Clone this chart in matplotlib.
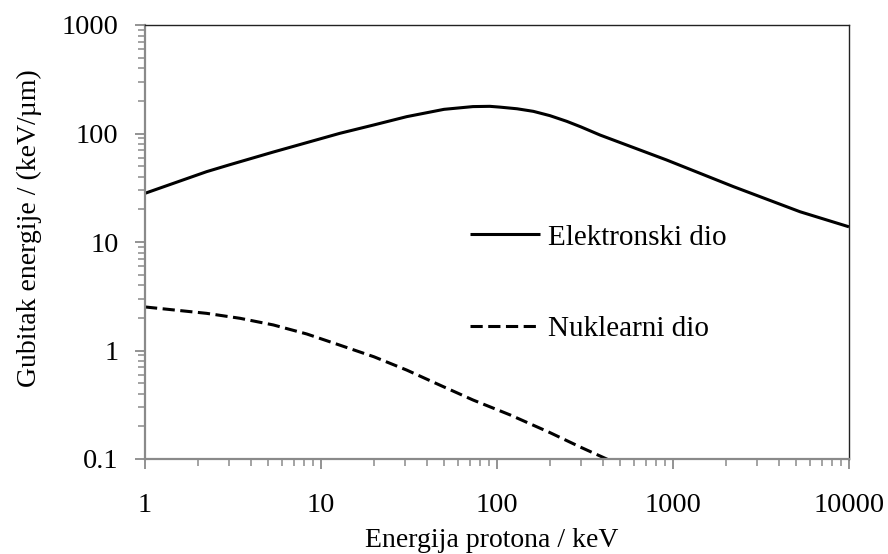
import matplotlib
matplotlib.use("Agg")
import matplotlib.pyplot as plt
from matplotlib.ticker import LogLocator, FixedLocator, FixedFormatter, NullFormatter

plt.rcParams['font.family'] = ['Liberation Serif', 'DejaVu Serif']

# Data
energy_e = [1, 2.24, 3, 5.36, 12.8, 20, 30.7, 50, 73, 91, 104, 130, 161, 200, 249,
            300, 385, 920, 2203, 5272, 10000]
elec = [28.1, 44.5, 51.3, 67.5, 100.4, 120, 143, 167, 177, 178, 175, 169, 160, 146, 129.5,
        115, 96.8, 57, 32.4, 19, 13.8]

energy_n = [1, 2.24, 3.47, 5.36, 8.3, 12.8, 20, 30.7, 48, 73, 118.6, 200, 300, 420, 450]
nucl = [2.52, 2.2, 1.98, 1.72, 1.42, 1.12, 0.875, 0.66, 0.475, 0.35, 0.255, 0.175, 0.128,
        0.1, 0.094]

xticks = [1, 10, 100, 1000, 10000]
xticklabels = ["1", "10", "100", "1000", "10000"]
yticks = [0.1, 1, 10, 100, 1000]
yticklabels = ["0.1", "1", "10", "100", "1000"]

label_e = "Elektronski dio"
label_n = "Nuklearni dio"
xlabel = "Energija protona / keV"
ylabel = "Gubitak energije / (keV/µm)"

W, H = 888, 554
fig = plt.figure(figsize=(W / 100, H / 100), dpi=100)
ax = fig.add_axes([145 / W, (H - 459) / H, (849 - 145) / W, (459 - 25) / H])

lw = 2.2
ln_e, = ax.plot(energy_e, elec, color='black', lw=lw, solid_capstyle='butt',
                solid_joinstyle='round')
ln_n, = ax.plot(energy_n, nucl, color='black', lw=lw, dashes=(4, 1.8), dash_capstyle='butt')

ax.set_xscale('log')
ax.set_yscale('log')
ax.set_xlim(1, 10000)
ax.set_ylim(0.1, 1000)

ax.xaxis.set_major_locator(FixedLocator(xticks))
ax.xaxis.set_major_formatter(FixedFormatter(xticklabels))
ax.yaxis.set_major_locator(FixedLocator(yticks))
ax.yaxis.set_major_formatter(FixedFormatter(yticklabels))
ax.xaxis.set_minor_locator(LogLocator(base=10, subs=range(2, 10), numticks=20))
ax.yaxis.set_minor_locator(LogLocator(base=10, subs=range(2, 10), numticks=20))
ax.xaxis.set_minor_formatter(NullFormatter())
ax.yaxis.set_minor_formatter(NullFormatter())

gray = '#8a8a8a'
for s in ['left', 'bottom']:
    ax.spines[s].set_color(gray)
    ax.spines[s].set_linewidth(1.6)
for s in ['top', 'right']:
    ax.spines[s].set_color('#222222')
    ax.spines[s].set_linewidth(1.0)

ax.tick_params(which='major', direction='out', length=7, width=1.3, color=gray,
               labelsize=20.5, top=False, right=False)
ax.tick_params(axis='x', which='major', pad=17.5)
ax.tick_params(axis='y', which='major', pad=12)
ax.tick_params(which='minor', direction='out', length=5, width=1.1, color=gray,
               top=False, right=False)

leg = ax.legend([ln_e, ln_n], [label_e, label_n], loc='center left',
                bbox_to_anchor=((470 - 145) / 704, (459 - 283) / 434),
                frameon=False, fontsize=21, handlelength=2.4, handletextpad=0.27,
                labelspacing=2.22, borderpad=0, borderaxespad=0)

fig.text(492 / W, 7 / H, xlabel, fontsize=20, ha='center', va='baseline')
fig.text(36 / W, (H - 228) / H, ylabel, fontsize=20, rotation=90,
         rotation_mode='anchor', ha='center', va='baseline')

fig.savefig('out.png', dpi=100)
